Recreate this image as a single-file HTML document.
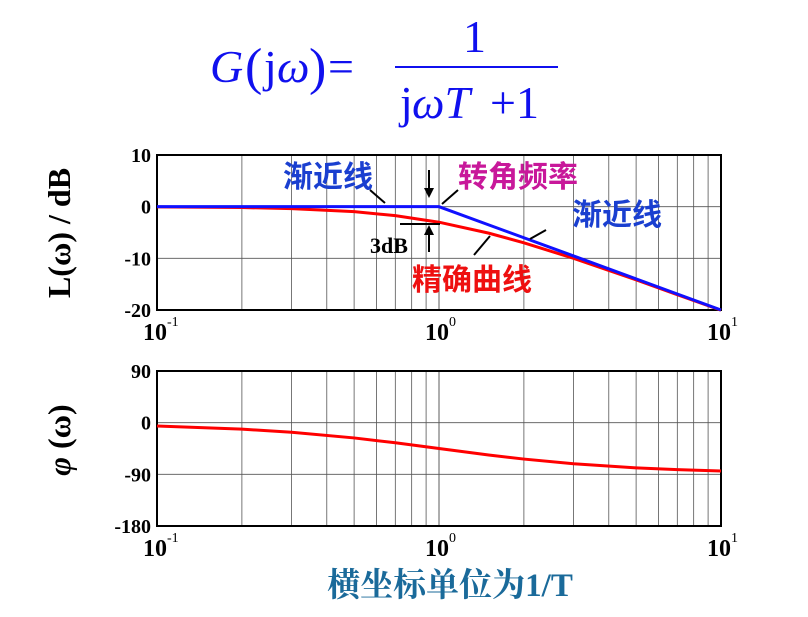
<!DOCTYPE html>
<html><head><meta charset="utf-8"><style>
body{margin:0;background:#fff;}
svg{display:block;font-family:"Liberation Serif","Noto Serif CJK SC",serif;}
.t{font-weight:bold;fill:#000;}
.cn{font-family:"Liberation Sans","Noto Sans CJK SC",sans-serif;font-weight:bold;}
</style></head><body>
<svg id="c" width="808" height="617" viewBox="0 0 808 617">
<g fill="#1010ee" style="font-size:46px">
<text x="210" y="82" font-style="italic">G</text>
<text x="245" y="84" style="font-size:52px">(</text>
<text x="264" y="82">j</text><text x="277" y="82" font-style="italic">ω</text>
<text x="309" y="84" style="font-size:52px">)</text>
<text x="328" y="82">=</text>
<text x="463" y="52">1</text>
<line x1="395" y1="67" x2="558" y2="67" stroke="#1010ee" stroke-width="2"/>
<text x="400" y="118">j</text><text x="412" y="118" font-style="italic">ωT</text><text x="490" y="118">+1</text>
</g>
<text class="t" transform="translate(70,233) rotate(-90)" text-anchor="middle" style="font-size:32px">L(ω) / dB</text>
<text class="t" transform="translate(70,440) rotate(-90)" text-anchor="middle" style="font-size:32px"><tspan font-style="italic">φ</tspan> (ω)</text>
<text x="450" y="596" text-anchor="middle" fill="#1a6a9a" style="font-size:33px;font-weight:bold;font-family:'Liberation Serif','Noto Serif CJK SC',serif">横坐标单位为1/T</text>
<g id="g1"></g><g id="g2"></g>
<g style="font-size:30px">
<text x="283" y="187" class="cn" fill="#1a3fd0">渐近线</text>
<line x1="370" y1="190" x2="385" y2="203" stroke="#000" stroke-width="2"/>
<text x="458" y="187" class="cn" fill="#c8189a">转角频率</text>
<line x1="458" y1="190" x2="442" y2="204" stroke="#000" stroke-width="2"/>
<line x1="429" y1="170" x2="429" y2="195" stroke="#000" stroke-width="2"/><path d="M424,188 L429,198 L434,188Z"/>
<text x="572" y="225" class="cn" fill="#1a3fd0">渐近线</text>
<line x1="530" y1="239" x2="546" y2="230" stroke="#000" stroke-width="2"/>
<line x1="400" y1="224" x2="440" y2="224" stroke="#000" stroke-width="2"/>
<line x1="429" y1="252" x2="429" y2="228" stroke="#000" stroke-width="2"/><path d="M424,235 L429,225 L434,235Z"/>
<text x="370" y="253" class="t" style="font-size:22px">3dB</text>
<text x="412" y="290" class="cn" fill="#ee1010">精确曲线</text>
<line x1="474" y1="255" x2="490" y2="236" stroke="#000" stroke-width="2"/>
</g>
</svg>
<script>
const freqs=[0.1,0.2,0.3,0.5,0.7,1,1.5,2,3,5,7,10];
const magExact=[-0.04,-0.17,-0.37,-0.97,-1.74,-3.01,-5.12,-6.99,-10,-14.15,-17.03,-20.04];
const magAsym=[0,0,0,0,0,0,-3.52,-6.02,-9.54,-13.98,-16.9,-20];
const phaseFreqs=[0.1,0.2,0.3,0.5,0.7,1,1.5,2,3,5,7,10];
const phase=[-5.7,-11.3,-16.7,-26.6,-35,-45,-56.3,-63.4,-71.6,-78.7,-81.9,-84.3];
const magTicks=[10,0,-10,-20];
const phaseTicks=[90,0,-90,-180];
const NS="http://www.w3.org/2000/svg";
const X0=157,X1=721;
const xs=w=>X0+(Math.log10(w)+1)/2*(X1-X0);
function mk(p,tag,a){const e=document.createElementNS(NS,tag);for(const k in a)e.setAttribute(k,a[k]);p.appendChild(e);return e;}
function panel(g,top,bot,ymax,ymin,ticks,name){
 const ys=v=>top+(ymax-v)/(ymax-ymin)*(bot-top);
 for(let d=-1;d<1;d++)for(let m=1;m<=10;m++){const x=xs(m*Math.pow(10,d));const l=mk(g,'line',{x1:x,x2:x,y1:top,y2:bot,stroke:'#555','stroke-width':0.8});
 
 }
 ticks.forEach(t=>{const y=ys(t);const l=mk(g,'line',{x1:X0,x2:X1,y1:y,y2:y,stroke:'#555','stroke-width':0.8});
 
 
 const tx=mk(g,'text',{x:X0-6,y:y+7,'text-anchor':'end',class:'t',style:'font-size:20px'});tx.textContent=t;
 
 });
 const r=mk(g,'rect',{x:X0,y:top,width:X1-X0,height:bot-top,fill:'none',stroke:'#000','stroke-width':2});
 
 
 [[-1,X0],[0,xs(1)],[1,X1]].forEach(([e,x])=>{const tx=mk(g,'text',{x:x-14,y:bot+30,class:'t',style:'font-size:24px'});tx.textContent='10';
 const s=mk(tx,'tspan',{dy:-14,style:'font-size:14px;font-weight:normal'});s.textContent=e;
 
 });
 return ys;}
const g1=document.getElementById('g1'),g2=document.getElementById('g2');
const y1=panel(g1,155,310,10,-20,magTicks,'magnitude-plot');
const y2=panel(g2,371,526,90,-180,phaseTicks,'phase-plot');
const pts=(f,v,ys)=>f.map((w,i)=>xs(w)+','+ys(v[i])).join(' ');
let p=mk(g1,'polyline',{points:pts(freqs,magExact,y1),fill:'none',stroke:'#ff0000','stroke-width':3});


p=mk(g1,'polyline',{points:pts(freqs,magAsym,y1),fill:'none',stroke:'#1010ff','stroke-width':3});


p=mk(g2,'polyline',{points:pts(phaseFreqs,phase,y2),fill:'none',stroke:'#ff0000','stroke-width':3});


</script>
</body></html>
